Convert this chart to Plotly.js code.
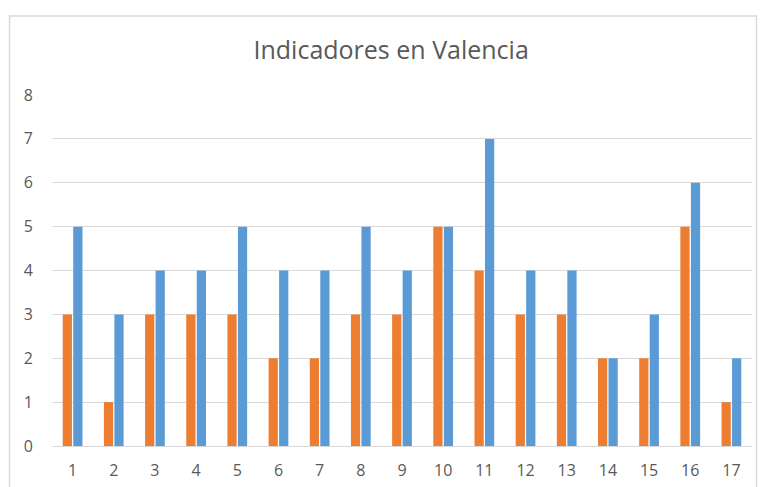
<!DOCTYPE html>
<html>
<head>
<meta charset="utf-8">
<script src="https://cdn.plot.ly/plotly-3.0.1.min.js"></script>
<style>html,body{margin:0;padding:0;background:#fff;}#chart{width:761px;height:487px;}</style>
</head>
<body>
<div id="chart"></div>
<script>
const categories = ['1','2','3','4','5','6','7','8','9','10','11','12','13','14','15','16','17'];
const seriesOrange = [3,1,3,3,3,2,2,3,3,5,4,3,3,2,2,5,1];
const seriesBlue = [5,3,4,4,5,4,4,5,4,5,7,4,4,2,3,6,2];
const yTicks = [0,1,2,3,4,5,6,7,8];

const data = [
  {type:'bar', x:categories, y:seriesOrange, name:'Serie 1', marker:{color:'#ed7d31'}},
  {type:'bar', x:categories, y:seriesBlue, name:'Serie 2', marker:{color:'#5b9bd5'}}
];
const font = {family:'Open Sans, Liberation Sans, sans-serif', color:'#595959'};
const layout = {
  width:761, height:487,
  margin:{l:51.5, r:8.5, t:95, b:41},
  paper_bgcolor:'#fff', plot_bgcolor:'#fff',
  showlegend:false,
  barmode:'group', bargap:0.49, bargroupgap:0.12,
  font:font,
  title:{text:'Indicadores en Valencia', x:0.514, xref:'container', y:0.897, yanchor:'middle', font:{family:font.family, size:25, color:'#595959'}},
  xaxis:{type:'category', tickvals:categories, ticktext:categories, showgrid:false, showline:false, zeroline:false, ticks:'', tickfont:{size:16, color:'#595959'}, ticklabelstandoff:13},
  yaxis:{range:[0,8], tickvals:yTicks, showgrid:true, gridcolor:'#d9d9d9', gridwidth:1, zeroline:true, zerolinecolor:'#d9d9d9', zerolinewidth:1, showline:false, ticks:'', tickfont:{size:16, color:'#595959'}, ticklabelstandoff:18},
  shapes:[{type:'rect', xref:'paper', yref:'paper', x0:(9-51.5)/701, x1:(757-51.5)/701, y0:-0.13, y1:(446-16)/351, line:{color:'#d9d9d9', width:1.5}, fillcolor:'rgba(0,0,0,0)', layer:'below'}]
};
Plotly.newPlot('chart', data, layout, {displayModeBar:false, staticPlot:true});
</script>
</body>
</html>
